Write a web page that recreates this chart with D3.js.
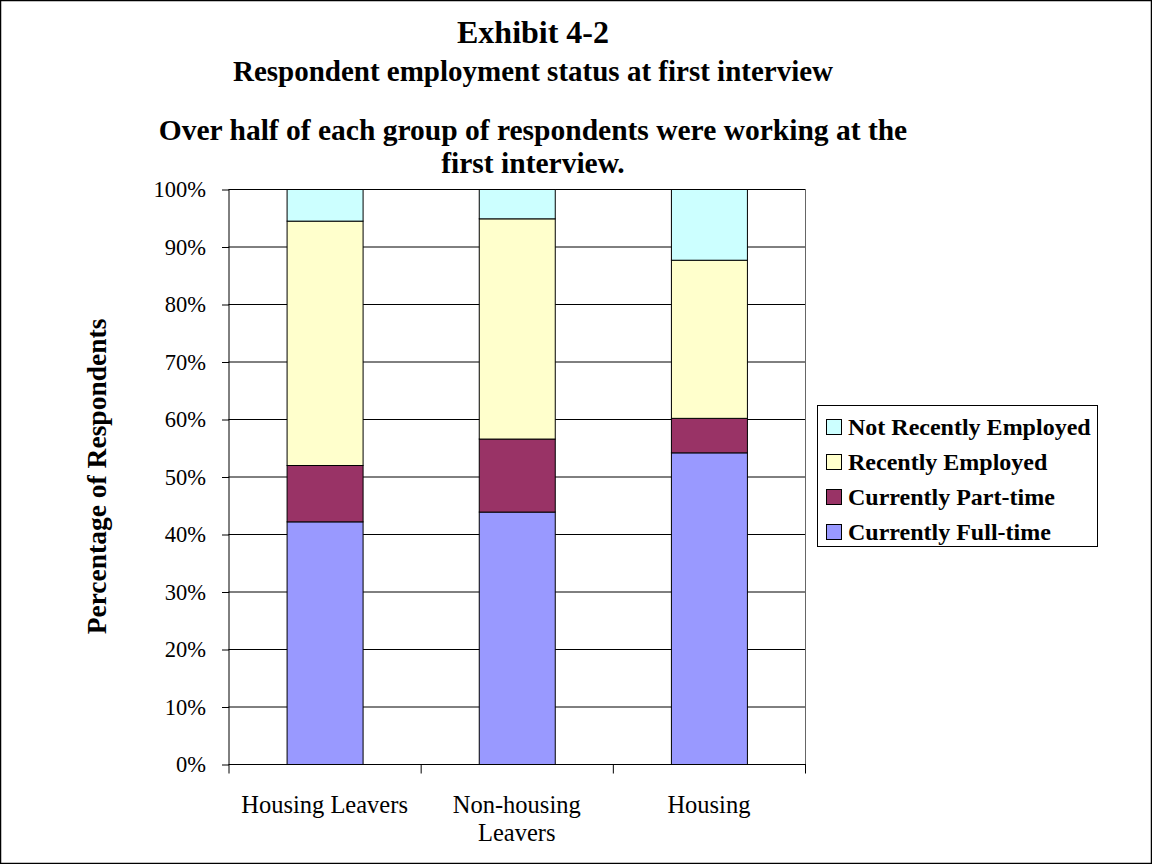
<!DOCTYPE html>
<html><head><meta charset="utf-8">
<script src="https://cdn.jsdelivr.net/npm/d3@7"></script>
<style>body{margin:0;background:#fff}svg{display:block;font-family:"Liberation Serif","Times New Roman",serif}</style>
</head><body><svg id="c" width="1152" height="864"></svg>
<script>
const categories = [["Housing Leavers"], ["Non-housing", "Leavers"], ["Housing"]];
const seriesNames = ["Currently Full-time", "Currently Part-time", "Recently Employed", "Not Recently Employed"];
const fullTime = [42.2, 43.9, 54.2];
const partTime = [9.8, 12.7, 6.0];
const recentlyEmployed = [42.5, 38.3, 27.5];
const notRecentlyEmployed = [5.5, 5.1, 12.3];
const colors = ["#9999FF", "#993366", "#FFFFCC", "#CCFFFF"];
const yTicks = [0, 10, 20, 30, 40, 50, 60, 70, 80, 90, 100];

(function () {
const svg = d3.select("#c");
svg.append("rect").attr("x", 0.5).attr("y", 0.5).attr("width", 1151).attr("height", 863)
  .attr("fill", "#fff").attr("stroke", "#000").attr("stroke-width", 1.5);

const pL = 228.5, pR = 805, pT = 189, pB = 764;
const keys = categories.map(c => c.join(" "));
const x = d3.scaleBand().domain(keys).range([pL, pR]).padding(0);
const y = d3.scaleLinear().domain([0, 100]).range([pB, pT]);
const barW = 76;

svg.append("g").selectAll("line").data(yTicks.filter(t => t > 0)).join("line")
  .attr("x1", pL).attr("x2", pR).attr("y1", d => y(d) + 0.5).attr("y2", d => y(d) + 0.5)
  .attr("stroke", "#000").attr("stroke-width", 1);
svg.append("line").attr("x1", pR + 0.5).attr("x2", pR + 0.5).attr("y1", pT).attr("y2", pB)
  .attr("stroke", "#666").attr("stroke-width", 1);

const table = keys.map((k, i) => ({ key: k, "Currently Full-time": fullTime[i], "Currently Part-time": partTime[i],
  "Recently Employed": recentlyEmployed[i], "Not Recently Employed": notRecentlyEmployed[i] }));
const stack = d3.stack().keys(seriesNames)(table);
const g = svg.append("g");
stack.forEach((s, si) => {
  g.append("g").selectAll("rect").data(s).join("rect")
    .attr("x", d => x(d.data.key) + x.bandwidth() / 2 - barW / 2 + 0.5)
    .attr("width", barW)
    .attr("y", d => y(d[1]) + 0.5)
    .attr("height", d => y(d[0]) - y(d[1]))
    .attr("fill", colors[si]).attr("stroke", "#000").attr("stroke-width", 1);
});

const yAxis = d3.axisLeft(y).tickValues(yTicks).tickFormat(d => d + "%").tickSize(7).tickPadding(16);
const ya = svg.append("g").attr("transform", `translate(${pL + 0.5},0.5)`).call(yAxis);
ya.selectAll("text").attr("font-size", 22.5).attr("fill", "#000").attr("font-family", "Liberation Serif");
ya.selectAll("line,path").attr("stroke", "#000");
ya.select(".domain").attr("d", `M0,${pT}V${pB}`);

const xa = svg.append("g").attr("transform", `translate(0,${pB + 0.5})`);
xa.append("line").attr("x1", pL).attr("x2", pR + 1).attr("stroke", "#000");
const bounds = [pL, ...keys.map(k => x(k) + x.bandwidth())];
xa.selectAll(".tk").data(bounds).join("line").attr("class", "tk")
  .attr("x1", d => d + 0.5).attr("x2", d => d + 0.5).attr("y1", 0).attr("y2", 9).attr("stroke", "#000");
categories.forEach((lines, i) => {
  const cxx = x(keys[i]) + x.bandwidth() / 2;
  const t = xa.append("text").attr("text-anchor", "middle").attr("font-size", 24.5)
    .attr("x", cxx).attr("y", 48.5);
  lines.forEach((ln, j) => t.append("tspan").attr("x", cxx).attr("dy", j ? 28 : 0).text(ln));
});

const cx = 533;
svg.append("text").attr("x", cx).attr("y", 43).attr("text-anchor", "middle").attr("font-size", 32).attr("font-weight", "bold").text("Exhibit 4-2");
svg.append("text").attr("x", cx).attr("y", 81).attr("text-anchor", "middle").attr("font-size", 29).attr("font-weight", "bold").text("Respondent employment status at first interview");
svg.append("text").attr("x", cx).attr("y", 140).attr("text-anchor", "middle").attr("font-size", 29.5).attr("font-weight", "bold").text("Over half of each group of respondents were working at the");
svg.append("text").attr("x", cx).attr("y", 173).attr("text-anchor", "middle").attr("font-size", 29.5).attr("font-weight", "bold").text("first interview.");

svg.append("text").attr("transform", `translate(106,${(pT + pB) / 2}) rotate(-90)`)
  .attr("text-anchor", "middle").attr("font-size", 27.5).attr("font-weight", "bold").text("Percentage of Respondents");

const lg = svg.append("g");
lg.append("rect").attr("x", 817.5).attr("y", 405.5).attr("width", 280).attr("height", 141).attr("fill", "#fff").attr("stroke", "#000");
const legendOrder = [3, 2, 1, 0];
legendOrder.forEach((si, r) => {
  const yy = 435 + r * 35;
  lg.append("rect").attr("x", 826.5).attr("y", yy - 15.5).attr("width", 15).attr("height", 15)
    .attr("fill", colors[si]).attr("stroke", "#000");
  lg.append("text").attr("x", 848).attr("y", yy).attr("font-size", 24).attr("font-weight", "bold").text(seriesNames[si]);
});
})();
</script></body></html>
